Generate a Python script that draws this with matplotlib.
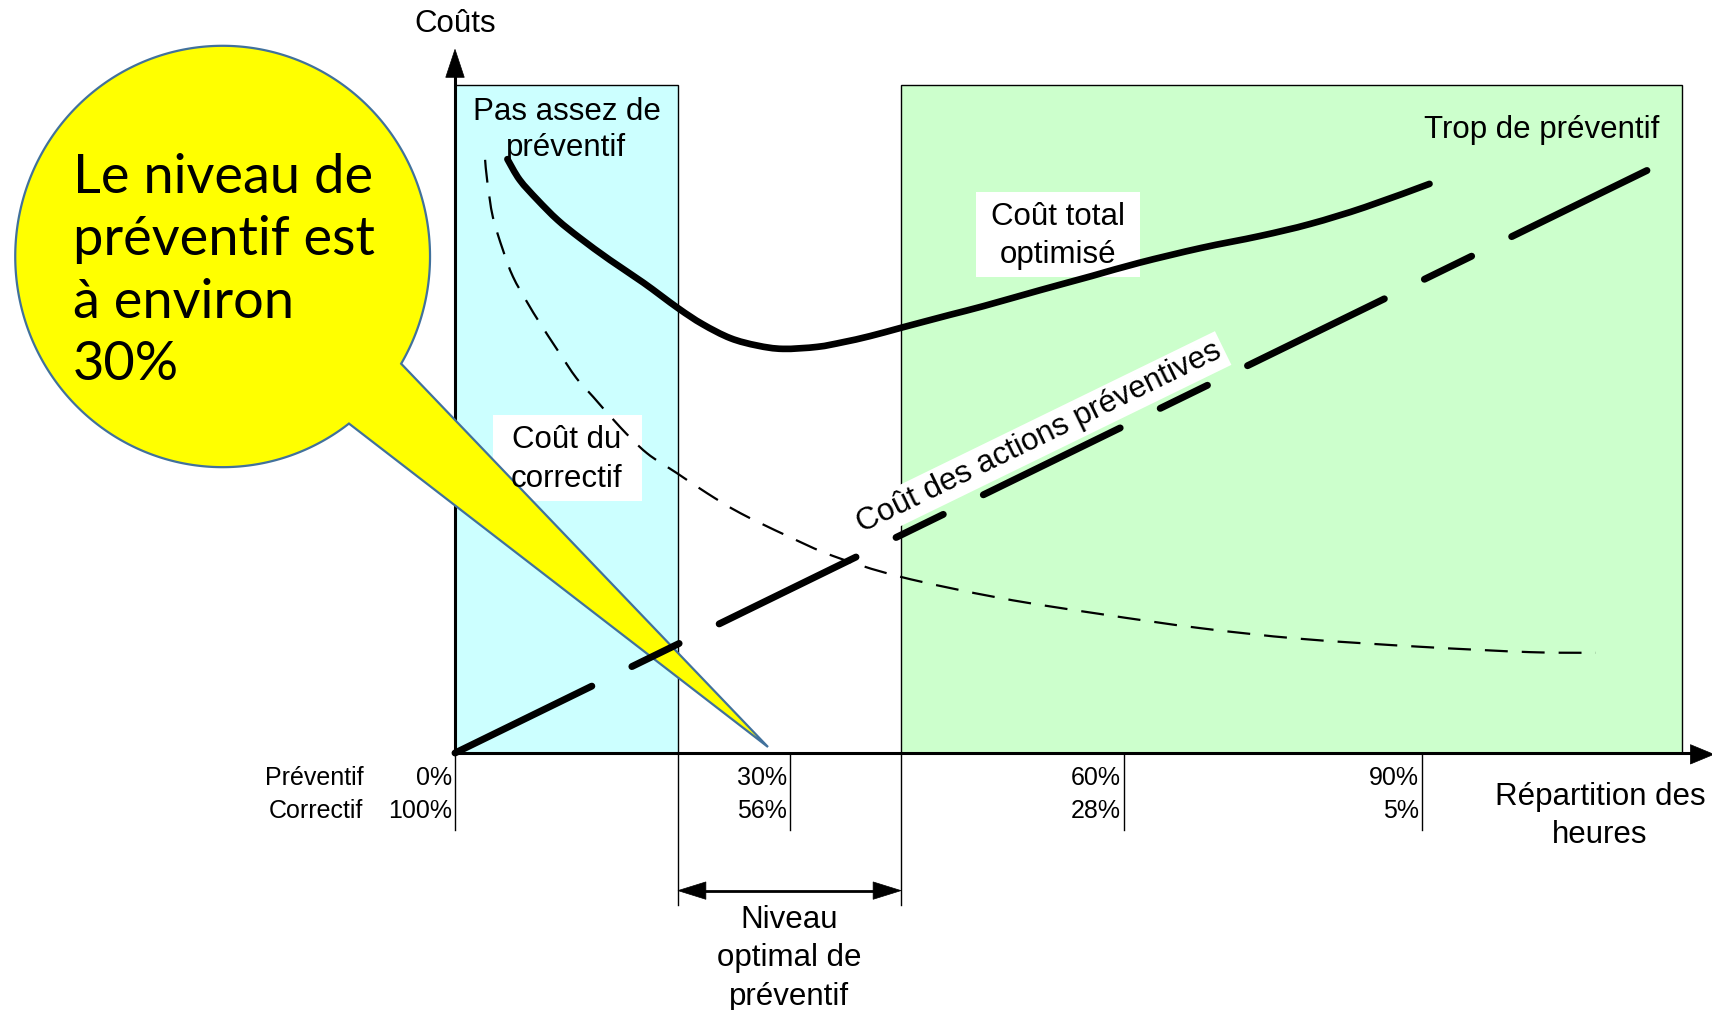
import numpy as np
import matplotlib
matplotlib.use("Agg")
import matplotlib.pyplot as plt
from matplotlib.patches import Rectangle, Polygon, PathPatch
from matplotlib.path import Path

plt.rcParams['font.family'] = ['Liberation Sans', 'DejaVu Sans']

# ---- data -----------------------------------------------------------------
# Horizontal axis: share of hours spent on preventive work (schematic scale)
tick_pos = [0, 30, 60, 86.7]
tick_preventif = ["0%", "30%", "60%", "90%"]
tick_correctif = ["100%", "56%", "28%", "5%"]

# Zones: not enough preventive / optimal / too much preventive
zone_low = (0, 20)
zone_high = (40, 110)
zone_top = 100

# Cost of preventive actions (straight line)
prev_x = [0, 106.9]
prev_y = [0, 87.2]

# Cost of corrective maintenance
corr_x = [2.7, 2.9, 3.4, 4.3, 5.2, 6.5, 7.6, 9.2, 10.9, 12.4, 14.8, 17.2,
          19.9, 22.6, 25.6, 29.8, 33.9, 39.9, 48.9, 57.9, 66.8, 75.8, 86.6,
          96.4, 102.3]
corr_y = [88.8, 85.5, 80.2, 75.3, 71.3, 67.4, 64.4, 60.3, 56.1, 53.3, 48.8,
          44.9, 41.9, 38.9, 35.9, 32.5, 29.5, 26.4, 23.2, 20.8, 18.7, 17.1,
          15.9, 15.1, 15.0]

# Optimised total cost
total_x = [4.7, 5.8, 7.4, 9.2, 11.2, 13.9, 16.9, 20.0, 22.2, 24.7, 27.1,
           29.4, 32.5, 34.8, 37.2, 40.1, 44.4, 47.4, 52.5, 57.1, 61.4, 66.9,
           72.2, 76.7, 81.6, 87.4]
total_y = [88.9, 85.8, 82.8, 79.8, 77.1, 73.8, 70.4, 66.6, 64.2, 62.1, 61.0,
           60.5, 60.8, 61.5, 62.4, 63.7, 65.6, 66.9, 69.3, 71.4, 73.4, 75.6,
           77.4, 79.2, 81.7, 85.2]

# ---- figure ---------------------------------------------------------------
fig = plt.figure(figsize=(17.12, 10.10), dpi=100)
ax = fig.add_axes([0, 0, 1, 1])
ax.set_xlim(-40.807, 112.735)
ax.set_ylim(-38.473, 112.725)
ax.axis('off')

FS = 22.5
FS_TICK = 18


def smooth_path(x, y):
    """Bezier path passing through every (x, y) point (Catmull-Rom tangents)."""
    p = np.column_stack([x, y]).astype(float)
    ext = np.vstack([p[0], p, p[-1]])
    verts = [p[0]]
    codes = [Path.MOVETO]
    for i in range(1, len(ext) - 2):
        p0, p1, p2, p3 = ext[i - 1], ext[i], ext[i + 1], ext[i + 2]
        verts += [p1 + (p2 - p0) / 6.0, p2 - (p3 - p1) / 6.0, p2]
        codes += [Path.CURVE4] * 3
    return Path(verts, codes)


def tri(pts, z=2):
    ax.add_patch(Polygon(pts, closed=True, fc='black', ec='black', lw=0.5,
                         zorder=z))


# zones
ax.add_patch(Rectangle((zone_low[0], 0), zone_low[1] - zone_low[0], zone_top,
                       fc='#CCFFFF', ec='black', lw=1.0, zorder=1))
ax.add_patch(Rectangle((zone_high[0], 0), zone_high[1] - zone_high[0], zone_top,
                       fc='#CCFFCC', ec='black', lw=1.0, zorder=1))

# axes with arrows
ax.plot([0, 0], [0, 102], color='black', lw=2.2, zorder=2, solid_capstyle='butt')
ax.plot([0, 111.5], [0, 0], color='black', lw=2.2, zorder=2, solid_capstyle='butt')
tri([(0, 105.34), (-0.83, 101.15), (0.83, 101.15)])
tri([(112.9, -0.2), (110.8, 1.25), (110.8, -1.65)])

# tick lines and labels
for xp, tp, tc in zip(tick_pos, tick_preventif, tick_correctif):
    ax.plot([xp, xp], [0, -11.5], color='black', lw=1.0, zorder=2)
    ax.text(xp - 0.25, -3.75, tp, ha='right', va='center', fontsize=FS_TICK)
    ax.text(xp - 0.25, -8.7, tc, ha='right', va='center', fontsize=FS_TICK)
ax.text(-8.2, -3.75, "Préventif", ha='right', va='center', fontsize=FS_TICK)
ax.text(-8.2, -8.7, "Correctif", ha='right', va='center', fontsize=FS_TICK)

# optimal range bracket
for xb in (zone_low[1], zone_high[0]):
    ax.plot([xb, xb], [0, -22.75], color='black', lw=1.0, zorder=2)
ax.plot([zone_low[1] + 2.0, zone_high[0] - 2.0], [-20.6, -20.6],
        color='black', lw=2.0, zorder=2)
tri([(zone_low[1], -20.6), (zone_low[1] + 2.5, -19.3), (zone_low[1] + 2.5, -21.9)])
tri([(zone_high[0], -20.6), (zone_high[0] - 2.5, -19.3), (zone_high[0] - 2.5, -21.9)])

# white label boxes
ax.add_patch(Rectangle((46.77, 71.26), 14.66, 12.77, fc='white', ec='none',
                       zorder=3))
ax.add_patch(Rectangle((3.43, 37.77), 13.31, 12.83, fc='white', ec='none',
                       zorder=3))

# callout bubble
cx, cy, rw, rh = -20.84, 74.33, 18.60, 31.54
A = (-4.84, 58.29)
B = (-9.48, 49.25)
tip = (28.07, 0.90)
tA = np.arctan2((A[1] - cy) / rh, (A[0] - cx) / rw)
tB = np.arctan2((B[1] - cy) / rh, (B[0] - cx) / rw)
if tB < tA:
    tB += 2 * np.pi
t = np.linspace(tA, tB, 500)
verts = np.column_stack([cx + rw * np.cos(t), cy + rh * np.sin(t)])
verts = np.vstack([verts, tip])
ax.add_patch(Polygon(verts, closed=True, fc='#FFFF00', ec='#41719C', lw=1.6,
                     joinstyle='miter', zorder=4))

# curves
ax.plot(prev_x, prev_y, color='black', lw=5.0, zorder=5,
        ls=(0, (21.93, 6.42, 7.57, 6.42)), dash_capstyle='round')
ax.add_patch(PathPatch(smooth_path(corr_x, corr_y), fill=False, ec='black',
                       lw=1.6, ls=(0, (10.3, 6.3)), capstyle='butt', zorder=5))
ax.add_patch(PathPatch(smooth_path(total_x, total_y), fill=False, ec='black',
                       lw=4.8, capstyle='round', joinstyle='round', zorder=5))

# texts
ax.text(0, 109.07, "Coûts", ha='center', va='center', fontsize=FS, zorder=6)
ax.text(10.0, 93.3, "Pas assez de\npréventif", ha='center', va='center',
        fontsize=FS, linespacing=1.27, zorder=6)
ax.text(108.0, 93.2, "Trop de préventif", ha='right', va='center',
        fontsize=FS, zorder=6)
ax.text(54.1, 77.37, "Coût total\noptimisé", ha='center', va='center',
        fontsize=FS, linespacing=1.37, zorder=6)
ax.text(10.0, 43.9, "Coût du\ncorrectif", ha='center', va='center',
        fontsize=FS, linespacing=1.37, zorder=6)
ax.text(52.4, 47.2, "Coût des actions préventives", ha='center', va='center',
        rotation=26, rotation_mode='anchor', fontsize=FS, zorder=6,
        bbox=dict(boxstyle='square,pad=0.12', fc='white', ec='none'))
ax.text(102.7, -9.4, "Répartition des\nheures", ha='center', va='center',
        fontsize=FS, linespacing=1.33, zorder=6)
ax.text(30.0, -30.75, "Niveau\noptimal de\npréventif", ha='center',
        va='center', fontsize=FS, linespacing=1.37, zorder=6)
ax.text(-34.26, 72.15, "Le niveau de\npréventif est\nà environ\n30%",
        ha='left', va='center', fontsize=39, family=['Lato', 'DejaVu Sans'],
        linespacing=1.33, zorder=6)

fig.savefig("out.png", dpi=100)
